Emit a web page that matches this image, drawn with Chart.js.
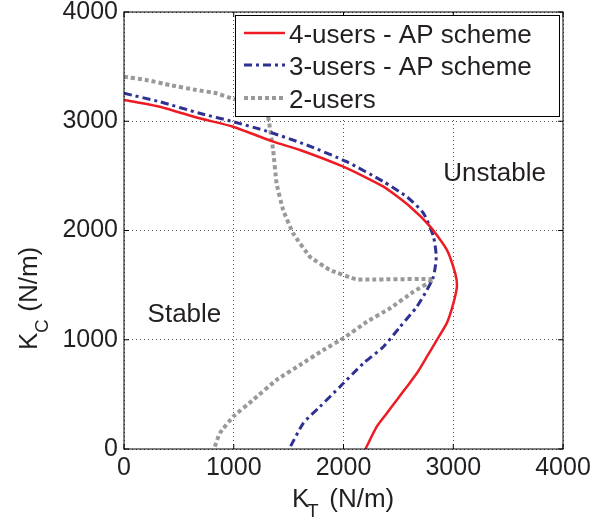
<!DOCTYPE html>
<html>
<head>
<meta charset="utf-8">
<script src="https://cdn.jsdelivr.net/npm/chart.js@4.4.0/dist/chart.umd.min.js"></script>
<style>
  html, body { margin: 0; padding: 0; background: #fff; }
  #wrap { width: 594px; height: 521px; }
</style>
</head>
<body>
<div id="wrap"><canvas id="kChart" width="594" height="521"></canvas></div>
<script>
// K_T (x) and K_C (y) in N/m
var users4_kt = [0, 324, 689, 994, 1359, 1603, 1998, 2364, 2607, 2790, 2942, 3018, 3034, 3018, 2980, 2940, 2851, 2760, 2668, 2577, 2486, 2395, 2303, 2200];
var users4_kc = [3195, 3133, 3027, 2950, 2813, 2737, 2584, 2401, 2218, 2035, 1822, 1608, 1500, 1400, 1260, 1150, 998, 845, 693, 570, 449, 327, 204, 0];

var users3_kt = [0, 324, 689, 994, 1298, 1664, 2029, 2364, 2577, 2729, 2820, 2845, 2820, 2760, 2668, 2516, 2364, 2181, 1968, 1785, 1633, 1505];
var users3_kc = [3256, 3179, 3073, 2996, 2910, 2783, 2630, 2447, 2309, 2157, 1943, 1760, 1577, 1455, 1302, 1119, 936, 784, 570, 387, 235, 0];

var users2_kt = [0, 203, 416, 659, 842, 979, 1200, 1300, 1320, 1359, 1390, 1450, 1541, 1694, 1877, 2120, 2820, 2637, 2425, 2212, 1998, 1816, 1603, 1390, 1176, 994, 872, 820];
var users2_kc = [3408, 3378, 3332, 3286, 3256, 3210, 3160, 3100, 3000, 2737, 2432, 2188, 1974, 1760, 1638, 1553, 1553, 1440, 1288, 1165, 1013, 906, 769, 632, 449, 296, 144, 0];

var seriesLabels = ['4-users - AP scheme', '3-users - AP scheme', '2-users'];
var tickValues = [0, 1000, 2000, 3000, 4000];

function pts(xs, ys) {
    return xs.map(function (x, i) { return { x: x, y: ys[i] }; });
}

var FONT = "'Liberation Sans', Arial, Helvetica, sans-serif";
var INK = '#231f20';

// matlab-ish frame, inward ticks, legend box, region labels, subscripted axis titles
var decorPlugin = {
    id: 'decor',
    afterDatasetsDraw: function (chart) {
        var ctx = chart.ctx, a = chart.chartArea;
        var xs = chart.scales.x, ys = chart.scales.y;
        ctx.save();

        // frame
        ctx.strokeStyle = '#000';
        ctx.lineWidth = 1;
        ctx.strokeRect(a.left, a.top, a.right - a.left, a.bottom - a.top);

        // inward ticks
        tickValues.forEach(function (v) {
            var px = xs.getPixelForValue(v), py = ys.getPixelForValue(v);
            ctx.beginPath();
            ctx.moveTo(px, a.bottom); ctx.lineTo(px, a.bottom - 5);
            ctx.moveTo(px, a.top); ctx.lineTo(px, a.top + 5);
            ctx.moveTo(a.left, py); ctx.lineTo(a.left + 5, py);
            ctx.moveTo(a.right, py); ctx.lineTo(a.right - 5, py);
            ctx.stroke();
        });

        // legend
        var lx = 235, ly = 15, lw = 324, lh = 101;
        ctx.fillStyle = '#fff';
        ctx.fillRect(lx, ly, lw, lh);
        ctx.strokeStyle = '#000';
        ctx.lineWidth = 1;
        ctx.strokeRect(lx + 0.5, ly + 0.5, lw, lh);
        var rows = [33, 65, 98];
        chart.data.datasets.forEach(function (ds, i) {
            ctx.save();
            ctx.strokeStyle = ds.borderColor;
            ctx.lineWidth = ds.borderWidth;
            ctx.setLineDash(ds.borderDash || []);
            ctx.beginPath();
            ctx.moveTo(244, rows[i]);
            ctx.lineTo(285, rows[i]);
            ctx.stroke();
            ctx.restore();
            ctx.fillStyle = INK;
            ctx.font = '26px ' + FONT;
            ctx.textBaseline = 'alphabetic';
            ctx.textAlign = 'left';
            ctx.fillText(ds.label, 289, rows[i] + 10);
        });

        // region labels
        ctx.fillStyle = INK;
        ctx.font = '26px ' + FONT;
        ctx.fillText('Unstable', xs.getPixelForValue(2909), ys.getPixelForValue(2453));
        ctx.fillText('Stable', xs.getPixelForValue(215), ys.getPixelForValue(1162));

        // x title: K_T (N/m)
        ctx.font = '26px ' + FONT;
        ctx.fillText('K', 292, 507);
        ctx.font = '19px ' + FONT;
        ctx.fillText('T', 307, 517);
        ctx.font = '26px ' + FONT;
        ctx.fillText(' (N/m)', 322, 507);

        // y title: K_C (N/m), rotated
        ctx.translate(37, 350);
        ctx.rotate(-Math.PI / 2);
        ctx.font = '26px ' + FONT;
        ctx.fillText('K', 0, 0);
        ctx.font = '19px ' + FONT;
        ctx.fillText('C', 17, 11);
        ctx.font = '26px ' + FONT;
        ctx.fillText(' (N/m)', 31, 0);

        ctx.restore();
    }
};

var ctx = document.getElementById('kChart').getContext('2d');
new Chart(ctx, {
    type: 'line',
    data: {
        datasets: [{
            label: seriesLabels[0],
            data: pts(users4_kt, users4_kc),
            borderColor: '#ed1c24',
            borderWidth: 2.5,
            pointRadius: 0,
            tension: 0.2,
            fill: false,
        },
        {
            label: seriesLabels[1],
            data: pts(users3_kt, users3_kc),
            borderColor: '#2e3192',
            borderWidth: 3,
            borderDash: [8, 4, 3, 4],
            pointRadius: 0,
            tension: 0.2,
            fill: false,
        },
        {
            label: seriesLabels[2],
            data: pts(users2_kt, users2_kc),
            borderColor: '#999999',
            borderWidth: 4,
            borderDash: [4, 3],
            pointRadius: 0,
            tension: 0.1,
            fill: false,
        }]
    },
    options: {
        responsive: false,
        animation: false,
        layout: {
            padding: { left: 0, right: 31, top: 12, bottom: 0 }
        },
        plugins: {
            legend: { display: false },
            tooltip: { enabled: false },
        },
        scales: {
            x: {
                type: 'linear',
                min: 0,
                max: 4000,
                afterFit: function (s) { s.height = 72; s.paddingLeft = 0; s.paddingRight = 0; },
                afterBuildTicks: function (s) { s.ticks = tickValues.map(function (v) { return { value: v }; }); },
                ticks: {
                    color: INK,
                    padding: 4,
                    maxRotation: 0,
                    font: { family: FONT, size: 25 },
                    callback: function (v) { return String(v); }
                },
                grid: { color: '#555', lineWidth: 1, drawTicks: false },
                border: { display: false, dash: [1, 3] },
            },
            y: {
                type: 'linear',
                min: 0,
                max: 4000,
                afterFit: function (s) { s.width = 124; s.paddingTop = 0; s.paddingBottom = 0; },
                afterBuildTicks: function (s) { s.ticks = tickValues.map(function (v) { return { value: v }; }); },
                ticks: {
                    color: INK,
                    padding: 6,
                    font: { family: FONT, size: 25 },
                    callback: function (v) { return String(v); }
                },
                grid: { color: '#555', lineWidth: 1, drawTicks: false },
                border: { display: false, dash: [1, 3] },
            },
        }
    },
    plugins: [decorPlugin]
});
</script>
</body>
</html>
